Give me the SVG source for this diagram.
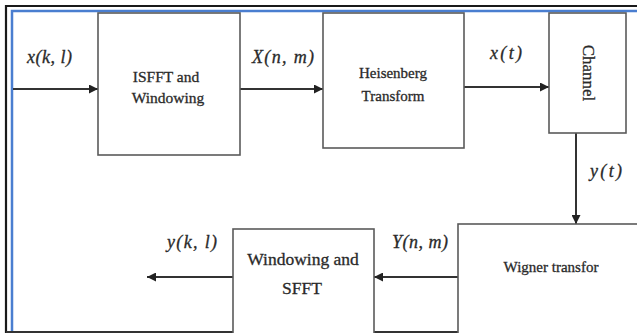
<svg xmlns="http://www.w3.org/2000/svg" width="637" height="333" viewBox="0 0 637 333">
  <style>
    .box { fill: #ffffff; stroke: #5a5a5a; stroke-width: 1.6; }
    .lbl { font-family: "Liberation Serif", "Times New Roman", serif; fill: #2a2a2a; stroke: #2a2a2a; stroke-width: 0.3; text-anchor: middle; }
    .math { font-family: "Liberation Serif", "Times New Roman", serif; font-style: italic; fill: #2a2a2a; stroke: #2a2a2a; stroke-width: 0.3; font-size: 18px; }
    .wire { stroke: #333333; stroke-width: 2; fill: none; marker-end: url(#tip); }
  </style>
  <defs>
    <marker id="tip" viewBox="0 0 10 10" refX="10" refY="5" markerWidth="4.5" markerHeight="4.5" orient="auto" markerUnits="strokeWidth">
      <path d="M0,0 L10,5 L0,10 z" fill="#222222"/>
    </marker>
  </defs>

  <rect width="637" height="333" fill="#ffffff"/>

  <!-- frame -->
  <g id="frame">
    <path d="M637,6 H6 V333" fill="none" stroke="#1a1a1a" stroke-width="2.2"/>
    <path d="M637,11 H12 V333" fill="none" stroke="#4a7ed0" stroke-width="2.5"/>
    <line x1="6" y1="332" x2="637" y2="332" stroke="#333333" stroke-width="2"/>
  </g>

  <!-- connectors -->
  <g id="connectors">
    <line class="wire" x1="13" y1="89" x2="98" y2="89"/>
    <line class="wire" x1="240" y1="89" x2="323" y2="89"/>
    <line class="wire" x1="464" y1="87" x2="549" y2="87"/>
    <line class="wire" x1="576" y1="133" x2="576" y2="224"/>
    <line class="wire" x1="458" y1="277" x2="374" y2="277"/>
    <line class="wire" x1="233" y1="277" x2="147" y2="277"/>
  </g>

  <!-- signal labels -->
  <g id="signals">
    <text class="math" x="27" y="63" textLength="45" lengthAdjust="spacing">x(k, l)</text>
    <text class="math" x="252" y="63" textLength="62" lengthAdjust="spacing">X(n, m)</text>
    <text class="math" x="490" y="59" textLength="32" lengthAdjust="spacing">x(t)</text>
    <text class="math" x="590" y="177" textLength="32" lengthAdjust="spacing">y(t)</text>
    <text class="math" x="392" y="248" textLength="56" lengthAdjust="spacing">Y(n, m)</text>
    <text class="math" x="167" y="248" textLength="50" lengthAdjust="spacing">y(k, l)</text>
  </g>

  <g id="isfft">
    <rect class="box" x="98" y="13" width="142" height="142"/>
    <text class="lbl" x="166" y="82" font-size="15.5">ISFFT and</text>
    <text class="lbl" x="168" y="103" font-size="15.5">Windowing</text>
  </g>

  <g id="heisenberg">
    <rect class="box" x="323" y="13" width="141" height="135"/>
    <text class="lbl" x="393" y="78" font-size="15">Heisenberg</text>
    <text class="lbl" x="393" y="101" font-size="15">Transform</text>
  </g>

  <g id="channel">
    <rect class="box" x="549" y="13" width="77" height="120"/>
    <text class="lbl" font-size="17" transform="translate(583,73) rotate(90)">Channel</text>
  </g>

  <g id="wigner">
    <rect class="box" x="458" y="224" width="185" height="115"/>
    <text class="lbl" x="551" y="272" font-size="15">Wigner transfor</text>
  </g>

  <g id="sfft">
    <rect class="box" x="233" y="229" width="141" height="110"/>
    <text class="lbl" x="303" y="265" font-size="17.5">Windowing and</text>
    <text class="lbl" x="302" y="294" font-size="17.5">SFFT</text>
  </g>
</svg>
